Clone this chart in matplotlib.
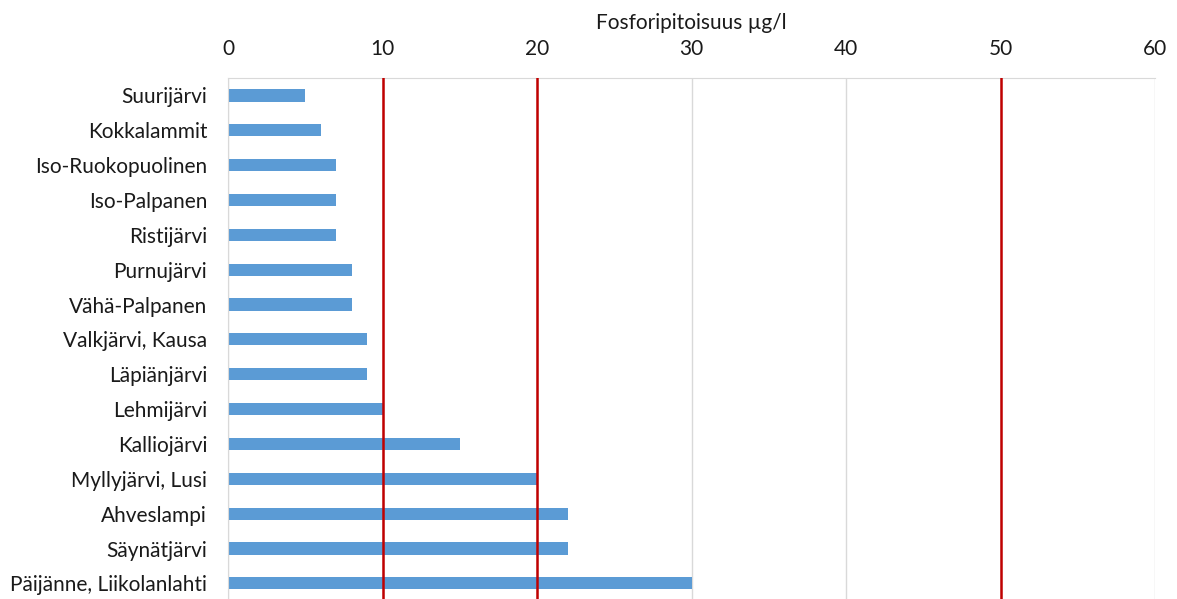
import matplotlib
matplotlib.use("Agg")
import matplotlib.pyplot as plt

lakes = [
    "Suurijärvi", "Kokkalammit", "Iso-Ruokopuolinen", "Iso-Palpanen",
    "Ristijärvi", "Purnujärvi", "Vähä-Palpanen", "Valkjärvi, Kausa",
    "Läpiänjärvi", "Lehmijärvi", "Kalliojärvi", "Myllyjärvi, Lusi",
    "Ahveslampi", "Säynätjärvi", "Päijänne, Liikolanlahti",
]
phosphorus = [5, 6, 7, 7, 7, 8, 8, 9, 9, 10, 15, 20, 22, 22, 30]
thresholds = [10, 20, 50]
x_ticks = [0, 10, 20, 30, 40, 50, 60]

plt.rcParams["font.family"] = ["Lato", "DejaVu Sans"]
text_color = "#1a1a1a"
fs = 15

fig = plt.figure(figsize=(11.77, 5.99), dpi=100)
ax = fig.add_axes([228 / 1177, -0.003, (1155 - 228) / 1177, 0.8728])

pos = list(range(len(lakes)))
ax.barh(pos, phosphorus, height=0.35, color="#5B9BD5", zorder=2)
for t in thresholds:
    ax.axvline(t, color="#C00000", linewidth=1.8, zorder=3)

ax.set_xlim(0, 60)
ax.set_ylim(len(lakes) - 0.5, -0.5)
ax.set_yticks(pos)
ax.set_yticklabels(lakes, fontsize=fs, color=text_color)
ax.set_xticks(x_ticks)
ax.set_xticklabels([str(v) for v in x_ticks], fontsize=fs, color=text_color)
ax.xaxis.tick_top()
ax.xaxis.set_label_position("top")
ax.set_xlabel("Fosforipitoisuus µg/l", fontsize=fs, color=text_color, labelpad=7)
ax.tick_params(axis="x", length=0, pad=14)
ax.tick_params(axis="y", length=0, pad=15)
ax.grid(axis="x", color="#d9d9d9", linewidth=1, zorder=0)

for side in ("right", "bottom"):
    ax.spines[side].set_visible(False)
ax.spines["top"].set_color("#d9d9d9")
ax.spines["left"].set_color("#d9d9d9")

fig.savefig("out.png", dpi=100)
